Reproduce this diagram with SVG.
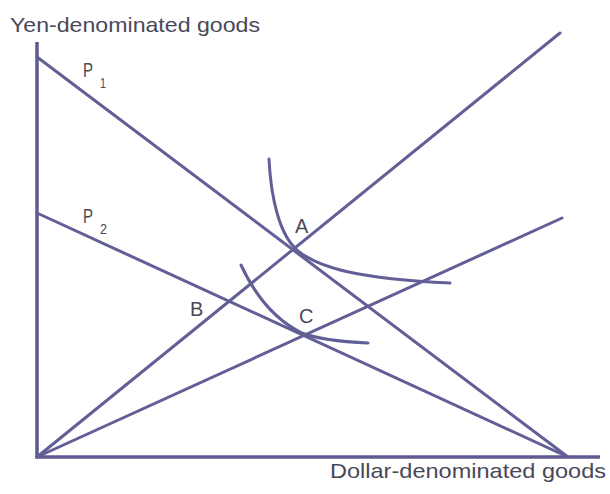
<svg xmlns="http://www.w3.org/2000/svg" width="610" height="494" viewBox="0 0 610 494">
<style>
.ln{stroke:#625f96;stroke-width:3;fill:none;stroke-linecap:round}
.ax{stroke:#5e5b92;stroke-width:3.5;fill:none}
.t{font-family:"Liberation Sans",Arial,sans-serif;fill:#4a4858}
</style>
<rect width="610" height="494" fill="#fff"/>
<g id="axes">
<path class="ax" d="M37,42 V457 H600"/>
<text class="t" x="10" y="32" font-size="21" textLength="250" lengthAdjust="spacingAndGlyphs">Yen-denominated goods</text>
<text class="t" x="330" y="478" font-size="21" textLength="276" lengthAdjust="spacingAndGlyphs">Dollar-denominated goods</text>
</g>
<g id="connectors">
<line class="ln" x1="37" y1="57" x2="568" y2="457"/>
<line class="ln" x1="37" y1="213" x2="568" y2="457"/>
<line class="ln" x1="37" y1="457" x2="560" y2="33"/>
<line class="ln" x1="37" y1="457" x2="562" y2="218"/>
</g>
<g id="curve1">
<path class="ln" d="M269,159 C271,200 280,235 297,250 C318,268 360,279 450,283"/>
</g>
<g id="curve2">
<path class="ln" d="M241,265 C255,295 275,320 302,333 C320,340 345,342 368,343"/>
</g>
<g id="labels">
<text class="t" x="83" y="77" font-size="20" textLength="10" lengthAdjust="spacingAndGlyphs">P</text>
<text class="t" x="100" y="88" font-size="14" textLength="6" lengthAdjust="spacingAndGlyphs">1</text>
<text class="t" x="83" y="223" font-size="20" textLength="10" lengthAdjust="spacingAndGlyphs">P</text>
<text class="t" x="100" y="234" font-size="14" textLength="7" lengthAdjust="spacingAndGlyphs">2</text>
<text class="t" x="295" y="233" font-size="20">A</text>
<text class="t" x="190" y="316" font-size="20">B</text>
<text class="t" x="299" y="323" font-size="20">C</text>
</g>
</svg>
